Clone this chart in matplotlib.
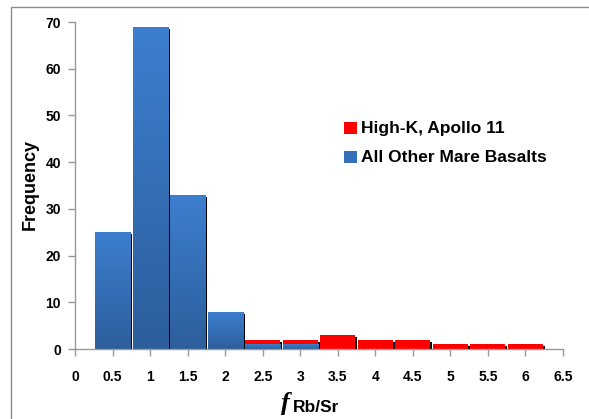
import matplotlib
matplotlib.use("Agg")
import matplotlib.pyplot as plt
import numpy as np
from matplotlib.patches import Rectangle
from matplotlib.colors import LinearSegmentedColormap

plt.rcParams['font.family'] = ['Liberation Sans', 'DejaVu Sans']

bin_centers = [0.5, 1.0, 1.5, 2.0, 2.5, 3.0, 3.5, 4.0, 4.5, 5.0, 5.5, 6.0]
other_mare = [25, 69, 33, 8, 1, 1, 0, 0, 0, 0, 0, 0]
high_k_apollo11 = [0, 0, 0, 0, 1, 1, 3, 2, 2, 1, 1, 1]
xticks = [0, 0.5, 1, 1.5, 2, 2.5, 3, 3.5, 4, 4.5, 5, 5.5, 6, 6.5]
xtick_labels = ['0', '0.5', '1', '1.5', '2', '2.5', '3', '3.5', '4', '4.5', '5', '5.5', '6', '6.5']
yticks = [0, 10, 20, 30, 40, 50, 60, 70]

W, H = 589, 419
fig = plt.figure(figsize=(W / 100, H / 100), dpi=100)
ax = fig.add_axes([75 / W, 1 - 349 / H, 488 / W, 327 / H])
ax.set_xlim(0, 6.5)
ax.set_ylim(0, 70)

# figure frame
fig.patches.append(Rectangle((11 / W, -0.1), 1.2, (1 - 7 / H) + 0.1, transform=fig.transFigure,
                             fill=False, edgecolor='#8c8c8c', linewidth=1.0))

width = 0.467
dx = 2 * 6.5 / 488  # 2 px
dy = 2 * 70 / 327

blue_cmap = LinearSegmentedColormap.from_list('b', ['#2d5e9c', '#3c7fcf'])
grad = np.linspace(0, 1, 100).reshape(-1, 1)

for xc, b, r in zip(bin_centers, other_mare, high_k_apollo11):
    tot = b + r
    if tot <= 0:
        continue
    ax.add_patch(Rectangle((xc - width / 2 + dx, 0), width, max(tot - dy, 0),
                           facecolor='black', edgecolor='none', zorder=1))
for xc, b, r in zip(bin_centers, other_mare, high_k_apollo11):
    if b > 0:
        rect = Rectangle((xc - width / 2, 0), width, b, facecolor='none', edgecolor='none', zorder=2)
        ax.add_patch(rect)
        im = ax.imshow(grad, cmap=blue_cmap, origin='lower', aspect='auto',
                       extent=(xc - width / 2, xc + width / 2, 0, b), zorder=2)
        im.set_clip_path(rect)
    if r > 0:
        ax.bar(xc, r, width=width, bottom=b, color='#ff0000', edgecolor='none', zorder=2)

ax.set_xlim(0, 6.5)
ax.set_ylim(0, 70)

for s in ['top', 'right']:
    ax.spines[s].set_visible(False)
for s in ['left', 'bottom']:
    ax.spines[s].set_color('#999999')
    ax.spines[s].set_linewidth(1.0)

ax.set_xticks(xticks)
ax.set_xticklabels(xtick_labels)
ax.set_yticks(yticks)
ax.tick_params(axis='both', direction='out', color='#999999', length=5, width=1,
               labelsize=10)
ax.tick_params(axis='x', pad=10)
ax.tick_params(axis='y', pad=5)
for lab in ax.get_xticklabels() + ax.get_yticklabels():
    lab.set_fontweight('bold')

fig.text(30 / W, 1 - 184 / H, 'Frequency', fontsize=13, fontweight='bold',
         rotation=90, ha='center', va='center')

# x label: italic f with subscript Rb/Sr
fig.text(285 / W, 1 - 410 / H, 'f', fontsize=19, style='italic', fontweight='bold',
         family='Liberation Serif', ha='center', va='baseline')
fig.text(293 / W, 1 - 412 / H, 'Rb/Sr', fontsize=12.5, fontweight='bold', ha='left', va='baseline')

# legend
ax.add_patch(Rectangle((344 / W, 1 - 134 / H), 13 / W, 12 / H, transform=fig.transFigure,
                       facecolor='#ff0000', edgecolor='none', clip_on=False))
ax.add_patch(Rectangle((344 / W, 1 - 163 / H), 13 / W, 12 / H, transform=fig.transFigure,
                       facecolor='#3571ba', edgecolor='none', clip_on=False))
fig.text(361 / W, 1 - 128 / H, 'High-K, Apollo 11', fontsize=12.5, fontweight='bold',
         ha='left', va='center')
fig.text(361 / W, 1 - 157 / H, 'All Other Mare Basalts', fontsize=12.5, fontweight='bold',
         ha='left', va='center')

fig.savefig('out.png', dpi=100)
